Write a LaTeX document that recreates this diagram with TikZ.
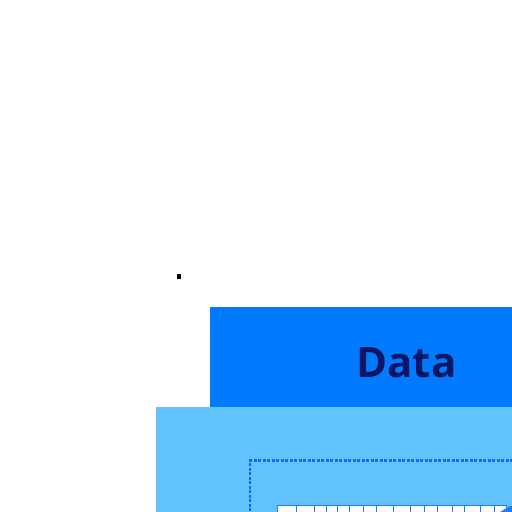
\documentclass[tikz,border=0pt]{standalone}
\usepackage{fontspec}
\setmainfont{Open Sans}
\definecolor{topblue}{HTML}{007BFF}
\definecolor{lightblue}{HTML}{62C3FF}
\definecolor{navy}{HTML}{0B1766}
\definecolor{dotblue}{HTML}{0A6CFF}
\definecolor{cellblue}{HTML}{1E7BFF}
\begin{document}
\begin{tikzpicture}[x=1pt,y=-1pt,
  cell/.style={draw=cellblue,fill=white,line width=0.8pt}]
\useasboundingbox (0,0) rectangle (512,512);
\fill[white] (0,0) rectangle (512,512);
% small black dot
\fill[black] (177,274) rectangle (181,278.5);
% Data header
\node[fill=topblue,minimum width=302pt,minimum height=100pt,anchor=north west,inner sep=0pt] (head) at (210,307) {};
\node[text=navy,font=\bfseries\fontsize{42}{42}\selectfont,inner sep=0pt] (title) at (406.5,363) {Data};
% light body
\node[fill=lightblue,minimum width=356pt,minimum height=105pt,anchor=north west,inner sep=0pt] (body) at (156,407) {};
% dotted inner frame
\draw[dotblue,line width=2.5pt,dash pattern=on 3pt off 1.5pt] (250,520) -- (250,460.5) -- (520,460.5);
% cells row
\foreach \a/\b in {277/296,296/314.5,314.5/326,326/337.5,337.5/349.5,349.5/363,363/376,376/393.5,393.5/410,410/424,424/437.5,437.5/452,452/464.5,464.5/480,480/494.5,494.5/506}{
  \draw[cell] (\a,505.5) rectangle (\b,520);
}
\fill[cellblue] (500,512) -- (510,506) -- (512,506) -- (512,512) -- cycle;
\end{tikzpicture}
\end{document}
